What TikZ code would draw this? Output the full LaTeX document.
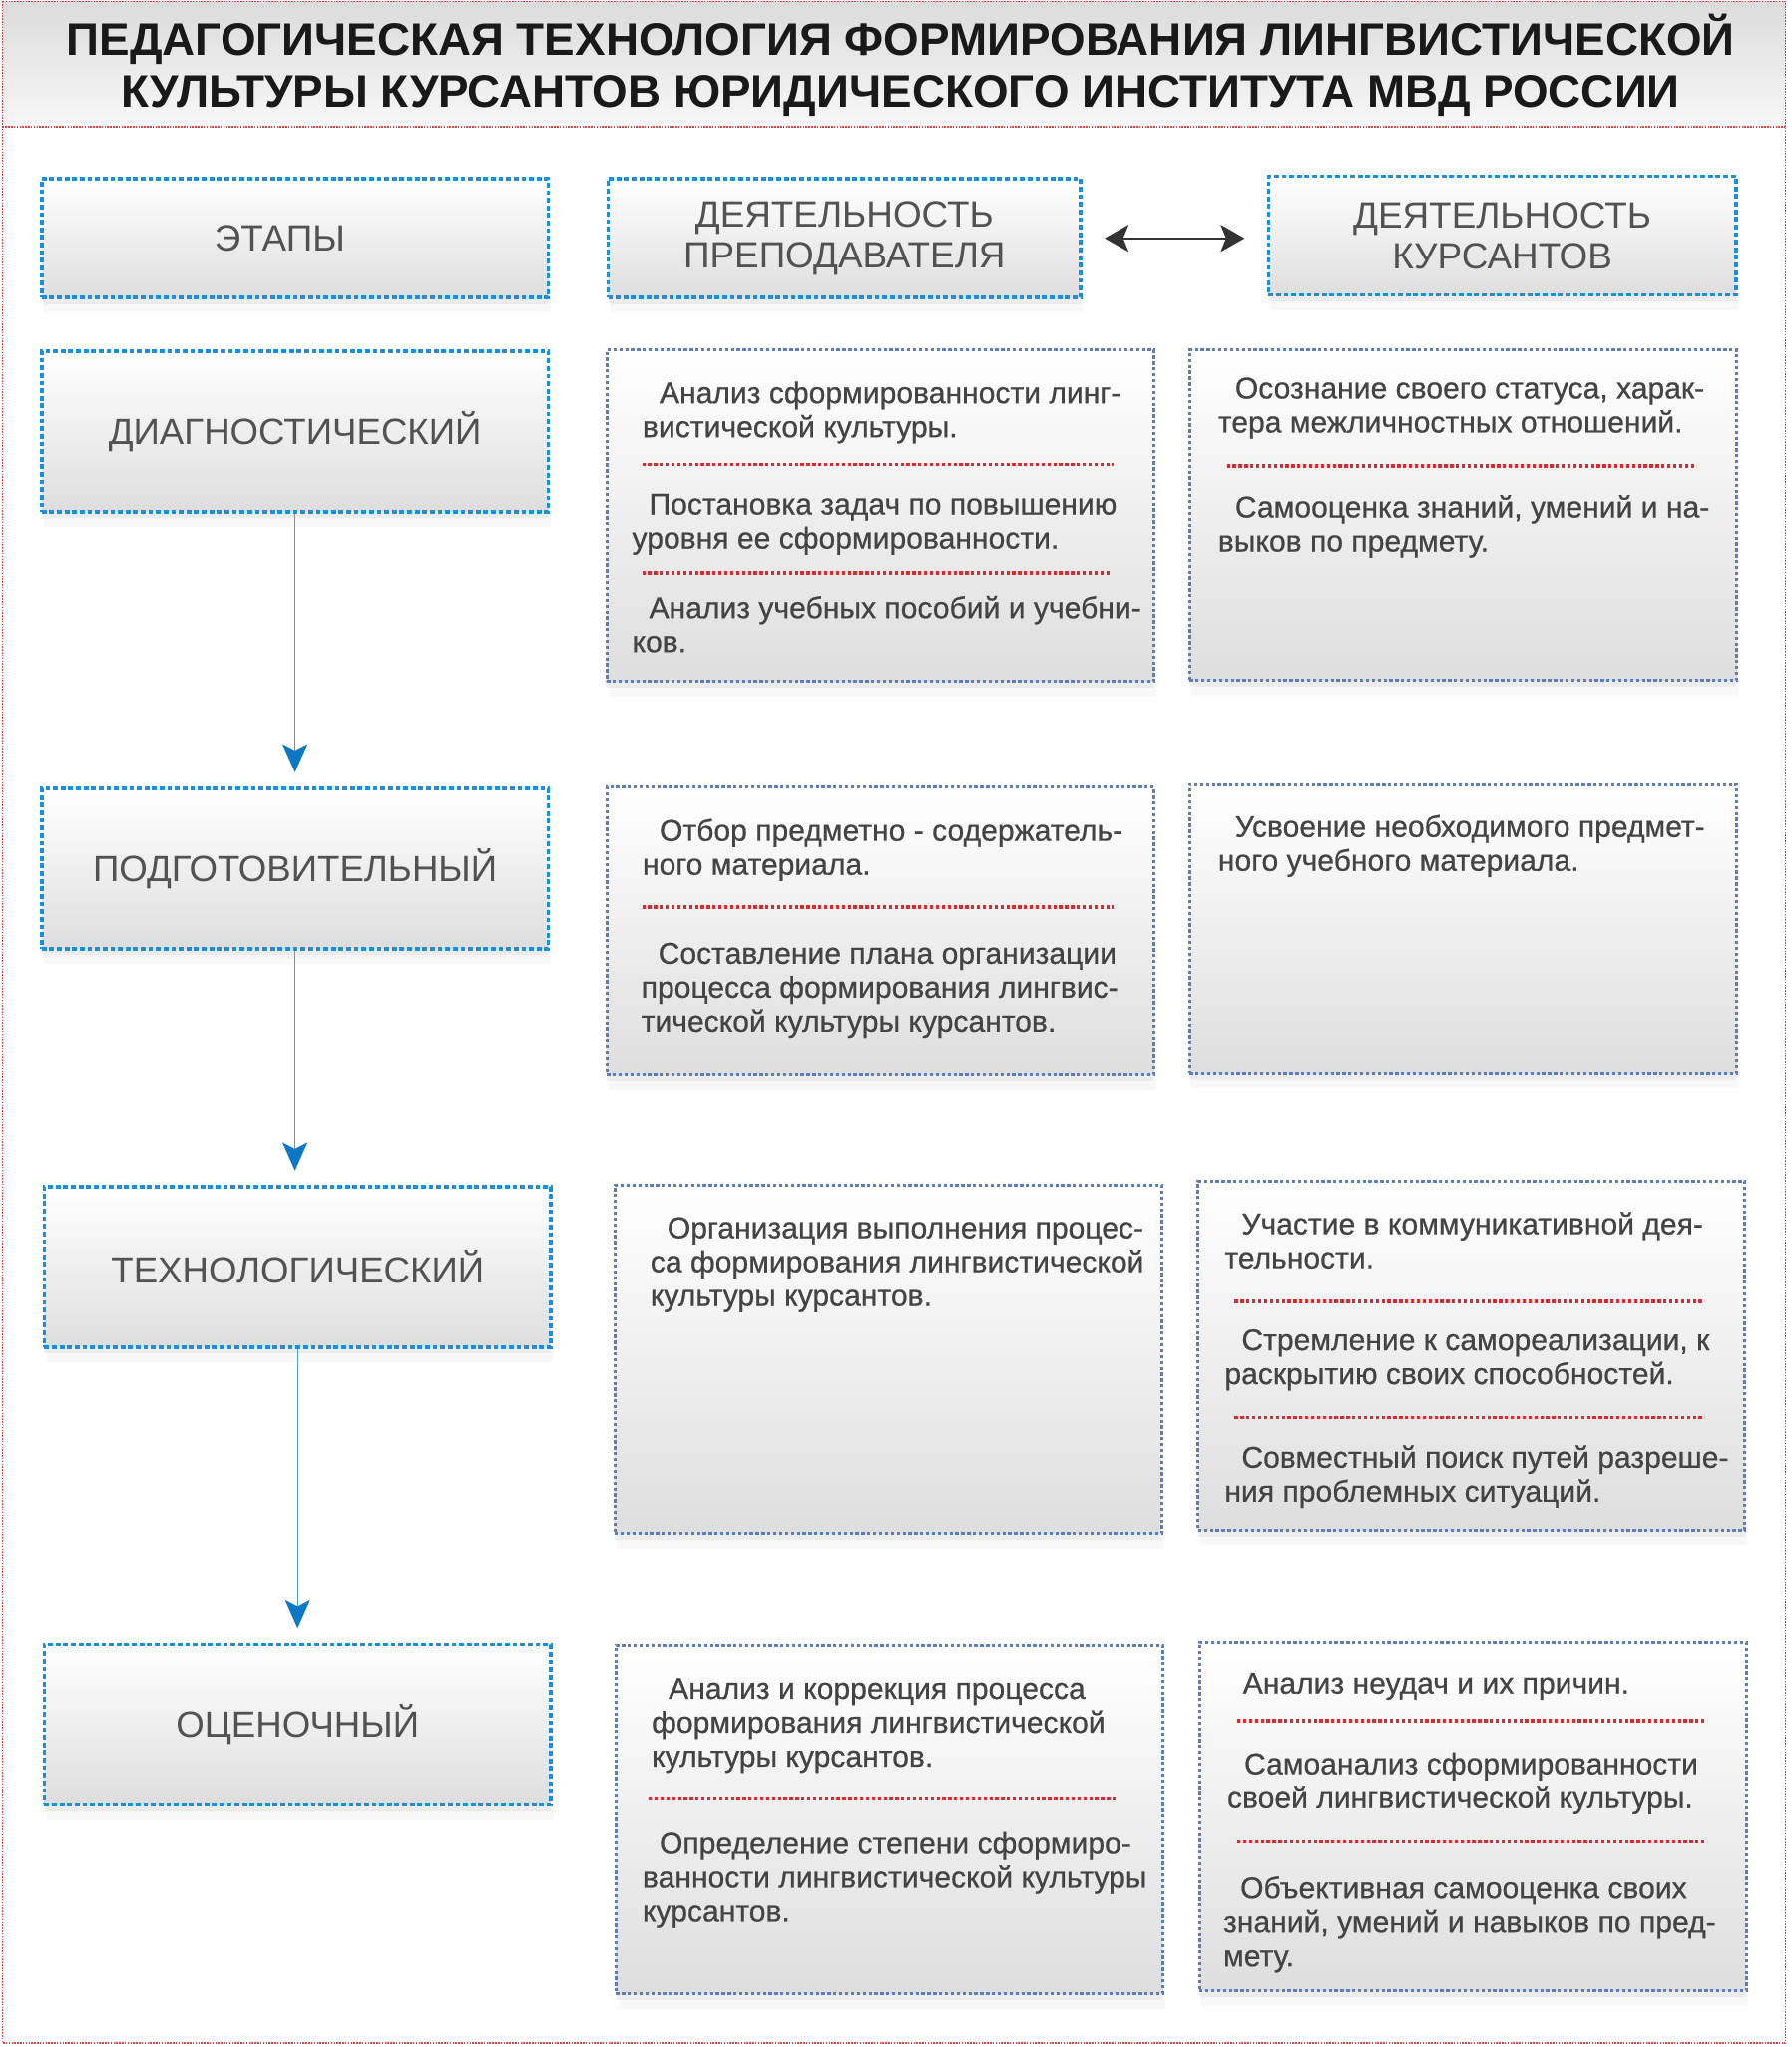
\documentclass[tikz,border=0pt]{standalone}
\usepackage{fontspec}
\setmainfont{Liberation Sans}
\newfontfamily\embossfont[FakeBold=0.7]{Liberation Sans}
\usetikzlibrary{arrows.meta, positioning, calc, shadows}

\definecolor{stageblue}{HTML}{1A8FE0}
\definecolor{boxblue}{HTML}{5B7DC0}
\definecolor{sepred}{HTML}{E3262B}
\definecolor{txtgray}{HTML}{444444}
\definecolor{arrowblue}{HTML}{0B78C6}
\definecolor{lineblue}{HTML}{4A9FDA}
\definecolor{framered}{HTML}{E04040}

\tikzset{
  boxshade/.style={top color=white, bottom color=black!13},
  softshadow/.style={drop shadow={shadow xshift=0pt, shadow yshift=-3pt, opacity=0.10},
                     drop shadow={shadow xshift=1pt, shadow yshift=-7pt, opacity=0.05}},
  headbox/.style={draw=stageblue, line width=1.7pt, dash pattern=on 2.2pt off 1.3pt,
                  boxshade, softshadow, inner sep=0pt, minimum height=54.6pt, align=center,
                  font=\fontsize{16.9}{18.6}\selectfont, text=black!68},
  stagebox/.style={draw=stageblue, line width=1.7pt, dash pattern=on 2.2pt off 1.3pt,
                   boxshade, softshadow, inner sep=0pt, minimum width=232.8pt, minimum height=73.8pt,
                   font=\fontsize{16.8}{19}\selectfont, text=black!68},
  actbox/.style={draw=boxblue, line width=1.4pt, dash pattern=on 1.5pt off 1.2pt,
                 boxshade, softshadow, inner sep=0pt, minimum width=251.4pt},
  txt/.style={anchor=north west, inner sep=0pt, align=left,
              font=\embossfont\fontsize{13.8}{15.6}\selectfont, text=txtgray},
  sepline/.style={draw=sepred, line width=1.6pt, dash pattern=on 1.5pt off 1.2pt},
  frameline/.style={draw=framered, line width=0.7pt, dash pattern=on 0.7pt off 0.6pt},
  flow/.style={draw=lineblue, line width=0.6pt, shorten >=6.6pt,
               -{Stealth[length=13pt, width=11.5pt, inset=3pt, color=arrowblue]}},
  duplex/.style={draw=black!80, line width=0.8pt,
                 {Stealth[length=11pt, width=12.5pt, inset=2.5pt]}-{Stealth[length=11pt, width=12.5pt, inset=2.5pt]}}
}

\begin{document}
\begin{tikzpicture}[x=0.6pt, y=-0.6pt]
\useasboundingbox (0,0) rectangle (1373,1568);
\fill[white] (0,0) rectangle (1373,1568);

% title band
\shade[top color=black!14, bottom color=black!3] (2,1) rectangle (1368,97);
\draw[frameline] (2,1) rectangle (1368,1565);
\draw[frameline] (2,97) -- (1368,97);
\node[align=center, font=\fontsize{21}{24}\selectfont\bfseries, text=black!90] (title) at (690,50)
  {ПЕДАГОГИЧЕСКАЯ ТЕХНОЛОГИЯ ФОРМИРОВАНИЯ ЛИНГВИСТИЧЕСКОЙ\\КУЛЬТУРЫ КУРСАНТОВ ЮРИДИЧЕСКОГО ИНСТИТУТА МВД РОССИИ};

% column headers
\node[headbox, minimum width=232.8pt] (etapy) at (226,182.5) {\hspace*{-14pt}ЭТАПЫ};
\node[headbox, minimum width=217.2pt] (hdrteach) at (647,182.5) {ДЕЯТЕЛЬНОСТЬ\\ПРЕПОДАВАТЕЛЯ};
\node[headbox, minimum width=214.8pt] (hdrstud) at (1151,180.5) {ДЕЯТЕЛЬНОСТЬ\\КУРСАНТОВ};
\draw[duplex] ([xshift=10.2pt]hdrteach.east) -- ([xshift=-10.2pt]hdrteach.east -| hdrstud.west);

% stages
\node[stagebox] (diag) at (226,330.5) {ДИАГНОСТИЧЕСКИЙ};
\node[stagebox] (prep) at (226,665.5) {ПОДГОТОВИТЕЛЬНЫЙ};
\node[stagebox] (tech) at (228,970.5) {ТЕХНОЛОГИЧЕСКИЙ};
\node[stagebox] (eval) at (228,1321) {ОЦЕНОЧНЫЙ};
\draw[flow] (diag.south) -- (diag.south |- prep.north);
\draw[flow] (prep.south) -- (prep.south |- tech.north);
\draw[flow] (tech.south) -- (tech.south |- eval.north);

% activity boxes
\node[actbox, minimum height=152.4pt] (t1) at (674.5,395) {};
\node[actbox, minimum height=151.8pt] (s1) at (1121,394.5) {};
\node[actbox, minimum height=132pt] (t2) at (674.5,713) {};
\node[actbox, minimum height=132.6pt] (s2) at (1121,711.5) {};
\node[actbox, minimum height=160.2pt] (t3) at (680.5,1041.5) {};
\node[actbox, minimum height=160.2pt] (s3) at (1127.5,1038.5) {};
\node[actbox, minimum height=160.2pt] (t4) at (681.5,1393.5) {};
\node[actbox, minimum height=160.2pt] (s4) at (1128.5,1391.5) {};

% diagnostic row
\node[txt] (t1a) at (492,292) {\hspace*{7.8pt}Анализ сформированности линг-\\вистической культуры.};
\draw[sepline] (492,356) -- (853,356);
\node[txt] (t1b) at (484,378) {\hspace*{7.8pt}Постановка задач по повышению\\уровня ее сформированности.};
\draw[sepline] (492,439) -- (851,439);
\node[txt] (t1c) at (484,456) {\hspace*{7.8pt}Анализ учебных пособий и учебни-\\ков.};
\node[txt] (s1a) at (933,289) {\hspace*{7.8pt}Осознание своего статуса, харак-\\тера межличностных отношений.};
\draw[sepline] (940,357) -- (1300,357);
\node[txt] (s1b) at (933,379) {\hspace*{7.8pt}Самооценка знаний, умений и на-\\выков по предмету.};

% preparatory row
\node[txt] (t2a) at (492,627) {\hspace*{7.8pt}Отбор предметно - содержатель-\\ного материала.};
\draw[sepline] (492,695) -- (853,695);
\node[txt] (t2b) at (491,722) {\hspace*{7.8pt}Составление плана организации\\процесса формирования лингвис-\\тической культуры курсантов.};
\node[txt] (s2a) at (933,624) {\hspace*{7.8pt}Усвоение необходимого предмет-\\ного учебного материала.};

% technological row
\node[txt] (t3a) at (498,932) {\hspace*{7.8pt}Организация выполнения процес-\\са формирования лингвистической\\культуры курсантов.};
\node[txt] (s3a) at (938,928) {\hspace*{7.8pt}Участие в коммуникативной дея-\\тельности.};
\draw[sepline] (946,997) -- (1306,997);
\node[txt] (s3b) at (938,1018) {\hspace*{7.8pt}Стремление к самореализации, к\\раскрытию своих способностей.};
\draw[sepline] (946,1086) -- (1306,1086);
\node[txt] (s3c) at (938,1107) {\hspace*{7.8pt}Совместный поиск путей разреше-\\ния проблемных ситуаций.};

% evaluation row
\node[txt] (t4a) at (499,1285) {\hspace*{7.8pt}Анализ и коррекция процесса\\формирования лингвистической\\культуры курсантов.};
\draw[sepline] (497,1378) -- (856,1378);
\node[txt] (t4b) at (492,1403) {\hspace*{7.8pt}Определение степени сформиро-\\ванности лингвистической культуры\\курсантов.};
\node[txt] (s4a) at (939,1281) {\hspace*{7.8pt}Анализ неудач и их причин.};
\draw[sepline] (948,1318) -- (1308,1318);
\node[txt] (s4b) at (940,1342) {\hspace*{7.8pt}Самоанализ сформированности\\своей лингвистической культуры.};
\draw[sepline] (948,1411) -- (1308,1411);
\node[txt] (s4c) at (937,1437) {\hspace*{7.8pt}Объективная самооценка своих\\знаний, умений и навыков по пред-\\мету.};
\end{tikzpicture}
\end{document}
